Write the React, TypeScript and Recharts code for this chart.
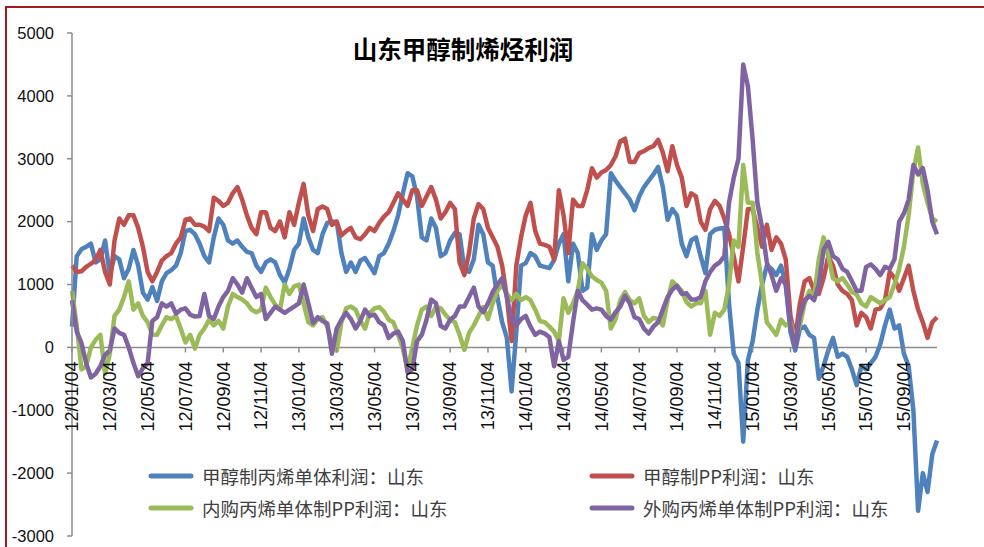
import { LineChart, Line, XAxis, YAxis, ReferenceLine, Legend } from 'recharts';

// x axis: one tick label every 8 points
const TICK_LABELS = [
  '12/01/04', '12/03/04', '12/05/04', '12/07/04', '12/09/04', '12/11/04',
  '13/01/04', '13/03/04', '13/05/04', '13/07/04', '13/09/04', '13/11/04',
  '14/01/04', '14/03/04', '14/05/04', '14/07/04', '14/09/04', '14/11/04',
  '15/01/04', '15/03/04', '15/05/04', '15/07/04', '15/09/04',
];
const STEP = 8;
const Y_TICKS = [-3000, -2000, -1000, 0, 1000, 2000, 3000, 4000, 5000];

const SERIES_NAMES = [
  '甲醇制丙烯单体利润：山东',
  '甲醇制PP利润：山东',
  '内购丙烯单体制PP利润：山东',
  '外购丙烯单体制PP利润：山东',
];

const methanolPropylene = [
  330, 1450, 1560, 1600, 1650, 1350, 1400, 1700,
  1150, 1450, 1400, 1100, 1250, 1550, 1300, 870,
  760, 960, 740, 1050, 1180, 1230, 1300, 1500,
  1850, 1870, 1800, 1650, 1450, 1350, 1750, 2050,
  1950, 1700, 1650, 1700, 1600, 1520, 1500, 1300,
  1200, 1350, 1400, 1350, 1150, 1030, 1250, 1550,
  1650, 2050, 1750, 1550, 1500, 1800, 1980, 2000,
  2000, 1500, 1200, 1350, 1200, 1380, 1420, 1300,
  1180, 1450, 1500, 1650, 1850, 2100, 2450, 2770,
  2720, 2400, 1750, 1700, 2050, 1900, 1450, 1500,
  1700, 1820, 1800, 1250, 1200, 1400, 1950, 1800,
  1350, 1300, 800, 400, 150, -700, 250, 1300,
  1340, 1500, 1450, 1300, 1280, 1260, 1390, 1650,
  1800, 1050, 1650, 1500, 900, 950, 1800, 1550,
  1700, 1800, 2770, 2650, 2550, 2450, 2350, 2180,
  2400, 2550, 2650, 2750, 2870, 2550, 2030, 2200,
  2100, 1650, 1450, 1700, 1750, 1450, 1180, 1800,
  1870, 1890, 1900, 700, -100, -250, -1500, -200,
  100, 600, 1000, 1300, 1250, 1150, 1300, 1000,
  250, -50, 300, 330, 200, 150, -500, -300,
  -50, 150, -150, -100, -150, -350, -600, -300,
  -350, -250, -150, 50, 350, 600, 300, 350,
  -100, -300, -1000, -2600, -2000, -2300, -1700, -1480,
];

const methanolPP = [
  1300, 1200, 1210, 1280, 1330, 1390, 1550, 1200,
  1000, 1700, 2050, 1950, 2100, 2100, 1900, 1600,
  1200, 1050, 1200, 1380, 1450, 1500, 1650, 1750,
  2030, 2050, 1950, 1950, 1920, 1850, 2380, 2330,
  2250, 2300, 2450, 2550, 2350, 2100, 1900, 1800,
  2150, 2150, 1900, 1850, 2000, 1750, 2150, 1950,
  2300, 2600, 2100, 1850, 2200, 2240, 2200, 1950,
  2000, 1780, 1850, 1900, 1750, 1720, 1800, 1900,
  1850, 1980, 2080, 2150, 2300, 2450, 2350, 2250,
  2500, 2500, 2250, 2400, 2550, 2350, 2050, 2150,
  2300, 2200, 1350, 1150, 1500, 2050, 2280, 2200,
  1900, 1750, 1600, 1300, 800, 100, 1300, 1750,
  2100, 2300, 1850, 1650, 1630, 1600, 1400, 2500,
  2100, 1500, 2350, 2250, 2250, 2500, 2850, 2700,
  2780, 2820, 2900, 3040, 3280, 3320, 2950, 2950,
  3090, 3120, 3170, 3200, 3300, 3100, 2800, 3200,
  2900, 2700, 2250, 2450, 2400, 2000, 1870, 2200,
  2330, 2250, 2050, 1800, 1450, 1050, 1600, 2200,
  2200, 1900, 1600, 1950, 1550, 1750, 1650, 1400,
  500, 150, 700, 1050, 1100, 900, 850, 1100,
  1450, 1300, 1000, 900, 850, 750, 350, 550,
  480, 300, 600, 620, 750, 1200, 1100, 900,
  1100, 1300, 900, 600, 400, 150, 400, 480,
];

const inhousePP = [
  900, 350, -350, -300, 0, 120, 200, -420,
  -100, 500, 600, 800, 1050, 600, 700, 500,
  400, 200, 200, 350, 480, 450, 500, 300,
  80, 200, -20, 200, 300, 440, 350, 420,
  300, 650, 850, 800, 760, 700, 600, 560,
  600, 950, 800, 680, 600, 1000, 850, 970,
  1000, 700, 400, 350, 450, 480, 330, 80,
  -50, 400, 620, 650, 600, 420, 300, 550,
  620, 640, 570, 440, 400, 200, -20, -350,
  0, 350, 600, 650, 500, 650, 620, 520,
  440, 400, 200, -40, 230, 350, 500, 640,
  450, 700, 900, 1000, 850, 750, 850, 750,
  800, 750, 600, 420, 400, 330, 250, 100,
  780, 550, 700, 900, 1340, 1250, 1130, 1070,
  1030, 900, 300, 450, 750, 880, 750, 700,
  780, 500, 400, 470, 450, 350, 750, 1050,
  980, 900, 720, 650, 700, 700, 900, 200,
  550, 500, 600, 1000, 1700, 1600, 2900, 2300,
  2300, 1500, 1000, 400, 300, 200, 440, 350,
  400, 120, 350, 700, 900, 800, 1400, 1750,
  1450, 1100, 1050, 1100, 1000, 880, 840, 700,
  650, 800, 750, 700, 750, 800, 1000, 1250,
  1600, 2100, 2800, 3180, 2600, 2300, 2050, 2000,
];

const outsourcedPP = [
  750, 250, 70, -250, -480, -420, -300, -120,
  -50, 300, 230, 200, 0, -250, -460, -330,
  -250, 420, 480, 700, 650, 700, 540, 600,
  620, 520, 490, 500, 850, 500, 450, 650,
  800, 900, 1100, 1000, 870, 1100, 950, 800,
  850, 450, 550, 650, 600, 550, 600, 650,
  700, 1000, 700, 390, 480, 420, 380, -100,
  300, 440, 550, 450, 300, 420, 600, 500,
  520, 400, 350, 150, 220, 250, 100, -400,
  -350, 100, 200, 440, 760, 700, 340, 300,
  440, 500, 650, 650, 800, 950, 650, 560,
  700, 880, 1000, 1100, 800, 450, 350, 450,
  500, 330, 200, 250, 220, 160, -300, 100,
  -200, -150, 400, 900, 750, 680, 600, 620,
  600, 500, 440, 560, 650, 820, 700, 480,
  450, 300, 220, 330, 400, 600, 800, 920,
  980, 850, 860, 760, 760, 800, 1050, 1200,
  1300, 1350, 1450, 2300, 2700, 3000, 4500, 4150,
  3300, 2300, 1900, 1350, 1150, 900, 1100, 1000,
  350, 0, 500, 750, 820, 750, 1000, 1550,
  1680, 1450, 1400, 1250, 1200, 1050, 900, 900,
  1280, 1320, 1250, 1150, 1280, 1250, 1400, 2000,
  2130, 2350, 2900, 2750, 2850, 2500, 2000, 1800,
];

const data = methanolPropylene.map((v, i) => ({
  i,
  a: v,
  b: methanolPP[i],
  c: inhousePP[i],
  d: outsourcedPP[i],
}));

const COLORS = ['#4F81BD', '#C0504D', '#9BBB59', '#8064A2'];
const KEYS = ['a', 'b', 'c', 'd'];

const WIDTH = 984;
const HEIGHT = 547;
const PLOT_TOP = 33;
const PLOT_BOTTOM = 536;
const PLOT_LEFT = 72;
const PLOT_RIGHT = 937;
const Y_MIN = -3000;
const Y_MAX = 5000;
const zeroY = PLOT_TOP + ((PLOT_BOTTOM - PLOT_TOP) * Y_MAX) / (Y_MAX - Y_MIN);
const AXIS_GRAY = '#8c8c8c';

const xTicks = TICK_LABELS.map((_, k) => k * STEP);

function renderXTick(props: any) {
  const { x, payload } = props;
  const ty = zeroY + 14;
  return (
    <g key={`xt-${payload.value}`}>
      <line x1={x} x2={x} y1={zeroY} y2={zeroY + 5} stroke={AXIS_GRAY} strokeWidth={1.5} />
      <text
        x={x}
        y={ty}
        transform={`rotate(-90, ${x}, ${ty})`}
        textAnchor="end"
        dy="0.35em"
        fontSize={18}
        fontFamily="Liberation Sans, Arial, sans-serif"
        fill="#111"
      >
        {TICK_LABELS[Math.round(payload.value / STEP)]}
      </text>
    </g>
  );
}

function LegendGrid() {
  return (
    <div style={{ display: 'grid', gridTemplateColumns: '441px auto' }}>
      {SERIES_NAMES.map((name, k) => (
        <div key={name} style={{ display: 'flex', alignItems: 'center', height: 32 }}>
          <svg width={46} height={10} style={{ marginRight: 8 }}>
            <line x1={3} x2={43} y1={5} y2={5} stroke={COLORS[k]} strokeWidth={5} strokeLinecap="round" />
          </svg>
          <span style={{ fontSize: 18.5, color: '#404040', fontFamily: '"Noto Sans CJK SC", sans-serif', whiteSpace: 'nowrap' }}>
            {name}
          </span>
        </div>
      ))}
    </div>
  );
}

export default function App() {
  return (
    <div style={{ position: 'absolute', left: 0, top: 0, width: WIDTH, height: HEIGHT, background: '#fff', overflow: 'hidden' }}>
      <div
        style={{
          position: 'absolute',
          left: 5,
          top: 6,
          width: WIDTH,
          height: HEIGHT,
          borderLeft: '2px solid #9e1d1d',
          borderTop: '2px solid #9e1d1d',
        }}
      />
      <div
        style={{
          position: 'absolute',
          left: 263,
          top: 36,
          width: 400,
          textAlign: 'center',
          fontSize: 24.5,
          lineHeight: '26px',
          fontWeight: 700,
          fontFamily: '"Noto Sans CJK SC", sans-serif',
          color: '#000',
        }}
      >
        山东甲醇制烯烃利润
      </div>
      <LineChart
        width={WIDTH}
        height={HEIGHT}
        data={data}
        margin={{ top: PLOT_TOP, right: WIDTH - PLOT_RIGHT, bottom: HEIGHT - PLOT_BOTTOM - 1, left: PLOT_LEFT - 60 }}
      >
        <XAxis
          dataKey="i"
          type="number"
          domain={[0, methanolPropylene.length - 1]}
          ticks={xTicks}
          interval={0}
          height={1}
          axisLine={false}
          tickLine={false}
          tick={renderXTick}
        />
        <YAxis
          width={60}
          domain={[Y_MIN, Y_MAX]}
          ticks={Y_TICKS}
          interval={0}
          tickSize={5}
          tickMargin={13}
          axisLine={{ stroke: AXIS_GRAY, strokeWidth: 1.5 }}
          tickLine={{ stroke: AXIS_GRAY, strokeWidth: 1.5 }}
          tick={{ fill: '#111', fontSize: 16.5, fontFamily: 'Liberation Sans, Arial, sans-serif' }}
        />
        <ReferenceLine y={0} stroke={AXIS_GRAY} strokeWidth={1.5} />
        <Legend
          layout="horizontal"
          verticalAlign="middle"
          align="center"
          content={<LegendGrid />}
          wrapperStyle={{ left: 148, top: 460, width: 800 }}
        />
        {KEYS.map((k, n) => (
          <Line
            key={k}
            type="linear"
            dataKey={k}
            name={SERIES_NAMES[n]}
            stroke={COLORS[n]}
            strokeWidth={4.5}
            strokeLinejoin="round"
            dot={false}
            activeDot={false}
            isAnimationActive={false}
          />
        ))}
      </LineChart>
    </div>
  );
}
